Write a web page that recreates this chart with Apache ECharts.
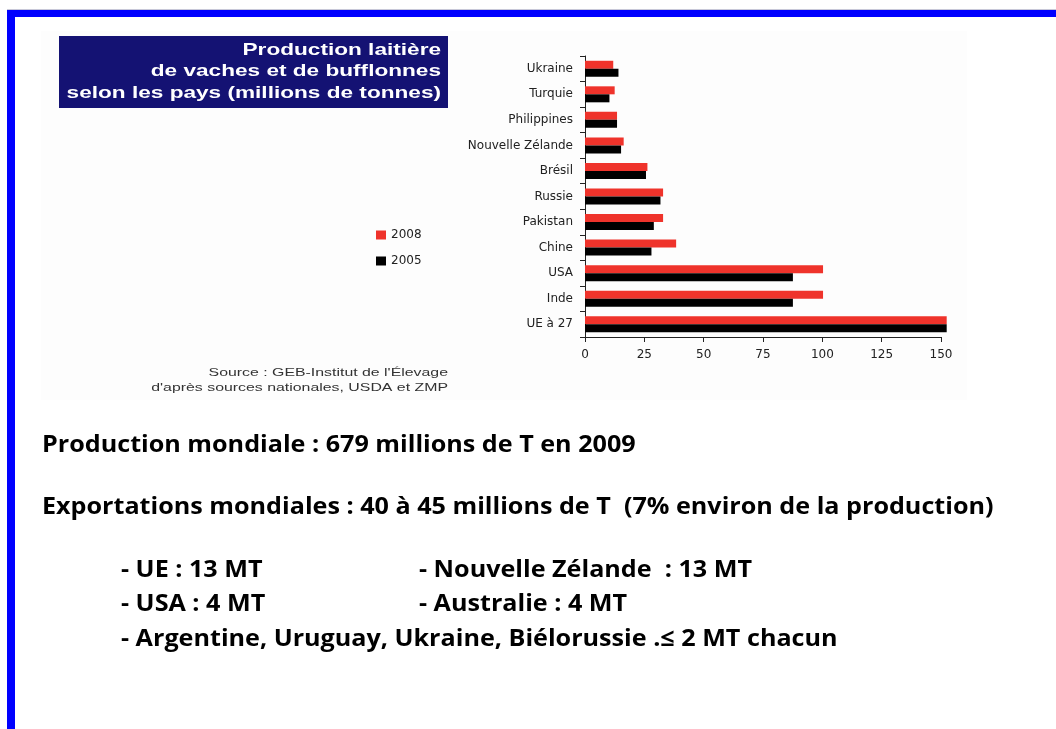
<!DOCTYPE html>
<html><head><meta charset="utf-8">
<script src="https://cdn.jsdelivr.net/npm/echarts@6/dist/echarts.min.js"></script>
<style>html,body{margin:0;padding:0;background:#fff}#c{width:1056px;height:729px}</style>
</head><body><div id="c"></div>
<script>
const categories = ['UE à 27','Inde','USA','Chine','Pakistan','Russie','Brésil','Nouvelle Zélande','Philippines','Turquie','Ukraine'];
const values2008 = [152.4,100.3,100.3,38.4,32.9,32.9,26.3,16.3,13.5,12.5,11.9];
const values2005 = [152.4,87.6,87.6,28.0,29.0,31.8,25.7,15.2,13.5,10.3,14.1];
const xTicks = [0,25,50,75,100,125,150];
const titleLines = ['Production laitière','de vaches et de bufflonnes','selon les pays (millions de tonnes)'];
const sourceLines = ["Source : GEB-Institut de l'Élevage","d'après sources nationales, USDA et ZMP"];
const textLines = ['Production mondiale : 679 millions de T en 2009','Exportations mondiales : 40 à 45 millions de T  (7% environ de la production)'];
const bulletsLeft = ['- UE : 13 MT','- USA : 4 MT','- Argentine, Uruguay, Ukraine, Biélorussie .≤ 2 MT chacun'];
const bulletsRight = ['- Nouvelle Zélande  : 13 MT','- Australie : 4 MT'];

const chart = echarts.init(document.getElementById('c'), null, {renderer:'canvas'});
const bodyFont = '"Open Sans"';
const axisFont = '"DejaVu Sans"';
const bodyScale = 1.07;
const g = [];
g.push({type:'rect', shape:{x:41,y:31,width:926,height:369}, style:{fill:'#fdfdfd'}, z:-10});
g.push({type:'rect', shape:{x:7,y:9,width:1049,height:1}, style:{fill:'#c8c8d8'}, z:5});
g.push({type:'rect', shape:{x:7,y:10,width:1049,height:7}, style:{fill:'#0000ff'}, z:5});
g.push({type:'rect', shape:{x:7,y:10,width:8,height:719}, style:{fill:'#0000ff'}, z:5});
g.push({type:'rect', shape:{x:59,y:36,width:389,height:72}, style:{fill:'#141273'}, z:1});
titleLines.forEach((t,i)=>g.push({type:'text', x:441, y:50+i*21.5, z:2, scaleX:1.33,
  style:{text:t, fill:'#ffffff', font:'bold 17px "Liberation Sans", Arial', textAlign:'right', textVerticalAlign:'middle'}}));
sourceLines.forEach((t,i)=>g.push({type:'text', x:448, y:373+i*14.5, z:2, scaleX:1.38,
  style:{text:t, fill:'#333', font:'11.5px "Liberation Sans", Arial', textAlign:'right', textVerticalAlign:'middle'}}));
textLines.forEach((t,i)=>g.push({type:'text', x:42, y:445+i*62, z:2, scaleX:bodyScale,
  style:{text:t, fill:'#000', font:'bold 23.5px '+bodyFont, textAlign:'left', textVerticalAlign:'middle'}}));
bulletsLeft.forEach((t,i)=>g.push({type:'text', x:121, y:570+i*34.5, z:2, scaleX:bodyScale,
  style:{text:t, fill:'#000', font:'bold 23.5px '+bodyFont, textAlign:'left', textVerticalAlign:'middle'}}));
bulletsRight.forEach((t,i)=>g.push({type:'text', x:419, y:570+i*34.5, z:2, scaleX:bodyScale,
  style:{text:t, fill:'#000', font:'bold 23.5px '+bodyFont, textAlign:'left', textVerticalAlign:'middle'}}));

chart.setOption({
  animation:false,
  backgroundColor:'#ffffff',
  textStyle:{fontFamily:axisFont},
  legend:{
    orient:'vertical', left:376, top:229, padding:0, itemWidth:10, itemHeight:9, itemGap:14,
    icon:'rect', textStyle:{fontSize:12, color:'#222', fontFamily:axisFont},
    data:['2008','2005']
  },
  grid:{left:585, right:115, top:56, bottom:392, containLabel:false},
  xAxis:{
    type:'value', min:0, max:150, interval:25,
    splitLine:{show:false},
    axisLine:{show:true, lineStyle:{color:'#222', width:1}},
    axisTick:{show:true, length:5, lineStyle:{color:'#222'}},
    axisLabel:{color:'#222', fontSize:12, margin:12, fontFamily:axisFont, formatter:v=>xTicks.includes(v)?String(v):''}
  },
  yAxis:{
    type:'category', data:categories,
    axisLine:{show:true, lineStyle:{color:'#222', width:1}},
    axisTick:{show:true, length:5, lineStyle:{color:'#222'}},
    axisLabel:{color:'#222', fontSize:12, margin:12, fontFamily:axisFont}
  },
  series:[
    {name:'2008', type:'bar', data:values2008, itemStyle:{color:'#ef332b'}, barWidth:8, barGap:'0%', clip:false},
    {name:'2005', type:'bar', data:values2005, itemStyle:{color:'#000000'}, barWidth:8, barGap:'0%', clip:false}
  ],
  graphic:g
});
</script></body></html>
